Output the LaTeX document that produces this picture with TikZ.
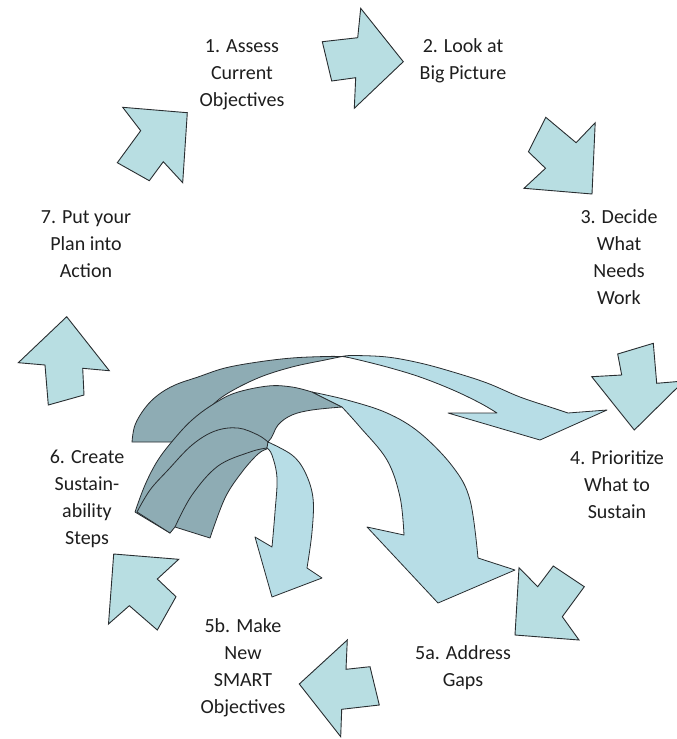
\documentclass[tikz,border=0pt]{standalone}
\usepackage{fontspec}
\setmainfont{Carlito}
\definecolor{blk}{RGB}{184,222,226}
\definecolor{crvlight}{RGB}{183,221,230}
\definecolor{crvdark}{RGB}{142,172,180}
\definecolor{edge}{RGB}{40,45,48}
\definecolor{txt}{RGB}{30,30,30}
\begin{document}
\begin{tikzpicture}[x=1pt,y=-1pt,
  blockarrow/.style={fill=blk,draw=edge,line width=0.9pt,line join=miter},
  lightpart/.style={fill=crvlight,draw=edge,line width=0.8pt,line join=round},
  darkpart/.style={fill=crvdark,draw=edge,line width=0.8pt,line join=round},
  label/.style={align=center,text=txt,font=\fontsize{20}{27}\selectfont,inner sep=0pt}]
\clip (0,0) rectangle (677,739);
\fill[white] (0,0) rectangle (677,739);

% text nodes
\node[label] (n1) at (242,75) {1. Assess\\Current\\Objectives};
\node[label] (n2) at (463,61) {2. Look at\\Big Picture};
\node[label] (n3) at (619,257) {3. Decide\\What\\Needs\\Work};
\node[label] (n4) at (617,485) {4. Prioritize\\What to\\Sustain};
\node[label] (n5a) at (463,668) {5a. Address\\Gaps};
\node[label] (n5b) at (243,668) {5b. Make\\New\\SMART\\Objectives};
\node[label] (n6) at (87,499) {6. Create\\Sustain-\\ability\\Steps};
\node[label] (n7) at (86,244) {7. Put your\\Plan into\\Action};

% straight block arrows
\draw[blockarrow] (122.7,107.3) -- (187.3,112.7) -- (182.7,182.7) -- (163.3,161.7) -- (149.3,180.7) -- (117.3,162.7) -- (140.7,130.7) -- cycle;
\draw[blockarrow] (322.3,41.7) -- (357.7,37.7) -- (360.7,8.3) -- (403.3,61.7) -- (354.3,108.3) -- (355.7,77.7) -- (331.7,81) -- cycle;
\draw[blockarrow] (545.8,117.3) -- (576.1,142.7) -- (595.2,122.7) -- (592,194) -- (524,188.3) -- (545.5,168.3) -- (528.4,151.7) -- cycle;
\draw[blockarrow] (617.7,354) -- (653.3,343.3) -- (656.7,383.3) -- (684,381) -- (634.3,430) -- (591.7,376.7) -- (621.7,375) -- cycle;
\draw[blockarrow] (519,567.7) -- (537.7,586.7) -- (553.3,566) -- (584.3,586.7) -- (562.3,616.7) -- (579,640) -- (515,635) -- cycle;
\draw[blockarrow] (347.3,640) -- (346,669.3) -- (370,666.7) -- (379.3,705) -- (341.7,709.3) -- (340.7,736.7) -- (299.3,684) -- cycle;
\draw[blockarrow] (113.7,554) -- (178.7,559.3) -- (157.3,579) -- (176,596.7) -- (157.3,630) -- (129.3,605.7) -- (108.5,624) -- cycle;
\draw[blockarrow] (66.7,316.7) -- (109.3,370.7) -- (82.7,368.3) -- (84,395) -- (48.3,405) -- (45,365) -- (18.3,362.7) -- cycle;

% big curved arrow (to 4)
\draw[darkpart] plot[smooth,tension=0.6] coordinates {(132,442) (135,425) (145,408) (158,395) (175,385) (198,377) (225,368) (258,362) (292,358) (325,356.5) (342,356.5)}
  -- plot[smooth,tension=0.6] coordinates {(342,356.5) (325,360) (292,367) (258,378) (225,395) (205,412) (185,430) (172,442)} -- cycle;
\draw[lightpart] plot[smooth,tension=0.6] coordinates {(342,356.5) (353,355.5) (387,357) (420,363) (453,372) (487,383) (520,397) (553,408) (568,413)}
  -- (607,410) -- (540,440) -- (448,413) -- (497,413)
  -- plot[smooth,tension=0.6] coordinates {(497,413) (480,403) (453,390) (420,377) (387,367) (353,358.5) (342,356.5)} -- cycle;

% middle curved arrow (to 5a)
\draw[darkpart] plot[smooth,tension=0.6] coordinates {(135,512) (145,485) (158,460) (175,438) (192,420) (212,405) (235,393) (268,386) (292,387) (312,392)}
  -- (342,407)
  -- plot[smooth,tension=0.6] coordinates {(342,407) (312,410) (292,415) (278,425) (268,442) (245,455) (215,480) (190,505) (170,533)} -- cycle;
\draw[lightpart] plot[smooth,tension=0.6] coordinates {(312,392) (347,400) (387,413) (420,433) (453,467) (470,500) (478,558)}
  -- (515,570) -- (438,603) -- (367,527) -- (404,535)
  -- plot[smooth,tension=0.6] coordinates {(404,535) (400,497) (387,460) (360,427) (342,407)} -- cycle;

% small curved arrow (to 5b)
\draw[darkpart] plot[smooth,tension=0.6] coordinates {(137,512) (150,490) (168,470) (192,445) (215,431) (238,428) (258,435) (268,442)}
  -- (267,448)
  -- plot[smooth,tension=0.6] coordinates {(267,449) (258,454) (242,472) (225,498) (210,538)}
  -- (175,527) -- (170,533) -- cycle;
\draw[edge,line width=0.8pt] plot[smooth,tension=0.6] coordinates {(175,527) (192,495) (218,466) (250,452) (267,448)};
\draw[lightpart] plot[smooth,tension=0.6] coordinates {(268,442) (292,455) (305,472) (313,498) (312,532) (307,568)}
  -- (322,578) -- (272,597) -- (255,537) -- (272,547)
  -- plot[smooth,tension=0.6] coordinates {(272,547) (275,512) (277,478) (272,455) (267,448)} -- cycle;
\end{tikzpicture}
\end{document}
